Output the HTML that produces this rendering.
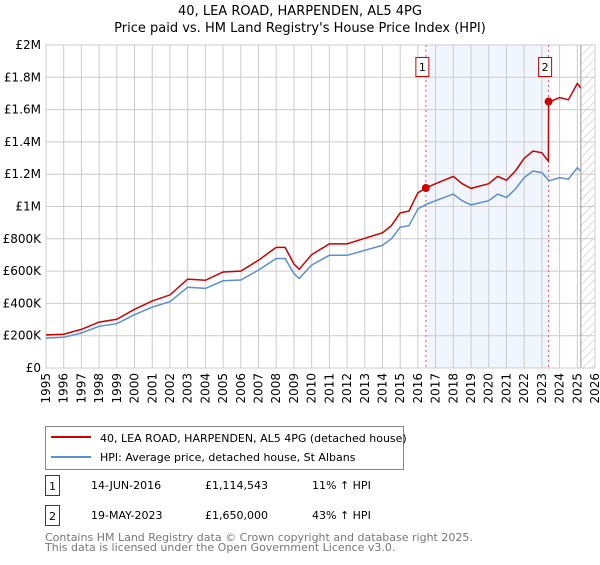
<!DOCTYPE html>
<html><head><meta charset="utf-8"><style>
body{margin:0;background:#fff;font-family:"Liberation Sans","DejaVu Sans",sans-serif;}
svg text{font-family:"DejaVu Sans","Liberation Sans",sans-serif;}
</style></head><body>
<svg id="chart" width="600" height="560" xmlns="http://www.w3.org/2000/svg">
<defs><pattern id="hatch" width="6" height="6" patternUnits="userSpaceOnUse" patternTransform="rotate(45)"><line x1="0" y1="0" x2="0" y2="6" stroke="#bbb" stroke-width="1"/></pattern></defs>
<text x="300" y="15" text-anchor="middle" font-size="13">40, LEA ROAD, HARPENDEN, AL5 4PG</text>
<text x="300" y="32" text-anchor="middle" font-size="13">Price paid vs. HM Land Registry's House Price Index (HPI)</text>
<g id="plot"></g>
<g>
<rect x="45.5" y="426.5" width="358" height="43" fill="#fff" stroke="#888"/>
<line x1="51" y1="437" x2="91" y2="437" stroke="#cc0000" stroke-width="2"/>
<text x="100" y="442" font-size="11">40, LEA ROAD, HARPENDEN, AL5 4PG (detached house)</text>
<line x1="51" y1="457" x2="91" y2="457" stroke="#5b8fd0" stroke-width="2"/>
<text x="100" y="461" font-size="11">HPI: Average price, detached house, St Albans</text>
</g>
<g>
<rect x="45.5" y="475.5" width="14" height="20" fill="#fff" stroke="#cc0000"/>
<text x="52.5" y="490" text-anchor="middle" font-size="11">1</text>
<text x="91" y="489" font-size="11">14-JUN-2016</text>
<text x="205" y="489" font-size="11">£1,114,543</text>
<text x="312" y="489" font-size="11">11% ↑ HPI</text>
<rect x="45.5" y="505.5" width="14" height="20" fill="#fff" stroke="#cc0000"/>
<text x="52.5" y="520" text-anchor="middle" font-size="11">2</text>
<text x="91" y="519" font-size="11">19-MAY-2023</text>
<text x="205" y="519" font-size="11">£1,650,000</text>
<text x="312" y="519" font-size="11">43% ↑ HPI</text>
</g>
<text x="45" y="541" font-size="11" fill="#777">Contains HM Land Registry data © Crown copyright and database right 2025.</text>
<text x="45" y="551" font-size="11" fill="#777">This data is licensed under the Open Government Licence v3.0.</text>
</svg>
<script>
const hpiYears=[1995,1996,1997,1998,1999,2000,2001,2002,2003,2004,2005,2006,2007,2008,2008.5,2009,2009.3,2010,2011,2012,2013,2014,2014.5,2015,2015.5,2016,2016.5,2017,2018,2018.5,2019,2020,2020.5,2021,2021.5,2022,2022.5,2023,2023.4,2024,2024.5,2025,2025.2];
const hpiValues=[186,190,217,258,274,330,377,411,500,493,540,545,606,678,678,585,555,637,698,698,729,760,800,872,882,985,1015,1036,1077,1036,1010,1036,1077,1056,1107,1179,1220,1210,1159,1179,1169,1240,1220];
const saleYears=[2016.45,2023.38];
const salePrices=[1114.543,1650];
const saleLabels=["1","2"];
const yTicks=[0,200,400,600,800,1000,1200,1400,1600,1800,2000];
const yTickLabels=["£0","£200K","£400K","£600K","£800K","£1M","£1.2M","£1.4M","£1.6M","£1.8M","£2M"];
const xTicks=[1995,1996,1997,1998,1999,2000,2001,2002,2003,2004,2005,2006,2007,2008,2009,2010,2011,2012,2013,2014,2015,2016,2017,2018,2019,2020,2021,2022,2023,2024,2025,2026];
const dataEnd=2025.2;

const NS="http://www.w3.org/2000/svg";
const L=46,R=595,T=45,B=368,X0=1995,X1=2026,YMAX=2000;
const sx=v=>L+(v-X0)/(X1-X0)*(R-L);
const sy=v=>B-v/YMAX*(B-T);
const plot=document.getElementById('plot');
function mk(tag,attrs,parent){const e=document.createElementNS(NS,tag);for(const k in attrs)e.setAttribute(k,attrs[k]);(parent||plot).appendChild(e);return e;}
function hpiAt(t){for(let i=0;i<hpiYears.length-1;i++){if(t>=hpiYears[i]&&t<=hpiYears[i+1]){const f=(t-hpiYears[i])/(hpiYears[i+1]-hpiYears[i]);return hpiValues[i]+f*(hpiValues[i+1]-hpiValues[i]);}}return hpiValues[hpiValues.length-1];}

const shade=mk('rect',{x:sx(saleYears[0]),y:T,width:sx(saleYears[1])-sx(saleYears[0]),height:B-T,fill:'#eef3fc',opacity:0.8});


const hatch=mk('rect',{x:sx(dataEnd),y:T,width:R-sx(dataEnd),height:B-T,fill:'url(#hatch)'});



yTicks.forEach((v,i)=>{
 const g=mk('line',{x1:L,x2:R,y1:sy(v),y2:sy(v),stroke:'#ccc','stroke-width':1});
 
 
 const t=mk('text',{x:L-5,y:sy(v)+4,'text-anchor':'end','font-size':12});
 t.textContent=yTickLabels[i];
 
 
});
xTicks.forEach(v=>{
 const g=mk('line',{x1:sx(v),x2:sx(v),y1:T,y2:B,stroke:'#ccc','stroke-width':1});
 
 
 const t=mk('text',{x:0,y:0,'text-anchor':'end','font-size':12,transform:`translate(${sx(v)+4},${B+5}) rotate(-90)`});
 t.textContent=v;
 
 
});
mk('line',{x1:sx(dataEnd),x2:sx(dataEnd),y1:T,y2:B,stroke:'#999','stroke-width':1});
const frame=mk('rect',{x:L,y:T,width:R-L,height:B-T,fill:'none',stroke:'#ccc'});



saleYears.forEach((s,i)=>{
 const d=mk('line',{x1:sx(s),x2:sx(s),y1:T,y2:B,stroke:'#e55','stroke-width':1,'stroke-dasharray':'2,3'});
 
 
 const r=mk('rect',{x:sx(s)-10,y:57.5,width:13,height:19,fill:'#fff',stroke:'#cc0000'});
 
 
 const t=mk('text',{x:sx(s)-3.5,y:71,'text-anchor':'middle','font-size':11});
 t.textContent=saleLabels[i];
});

const hp=hpiYears.map((y,i)=>sx(y).toFixed(1)+','+sy(hpiValues[i]).toFixed(1)).join(' ');
const hl=mk('polyline',{points:hp,fill:'none',stroke:'#5b8fd0','stroke-width':1.5});



const times=[...hpiYears,...saleYears,saleYears[1]-0.01].sort((a,b)=>a-b);
const pts=times.map(t=>{let k=0;for(let i=0;i<saleYears.length;i++)if(t>=saleYears[i])k=i;const v=salePrices[k]*hpiAt(t)/hpiAt(saleYears[k]);return sx(t).toFixed(1)+','+sy(v).toFixed(1);}).join(' ');
const pl=mk('polyline',{points:pts,fill:'none',stroke:'#cc0000','stroke-width':1.5});


saleYears.forEach((s,i)=>{
 const c=mk('circle',{cx:sx(s),cy:sy(salePrices[i]),r:4,fill:'#cc0000'});
 
 
});
</script>
</body></html>
